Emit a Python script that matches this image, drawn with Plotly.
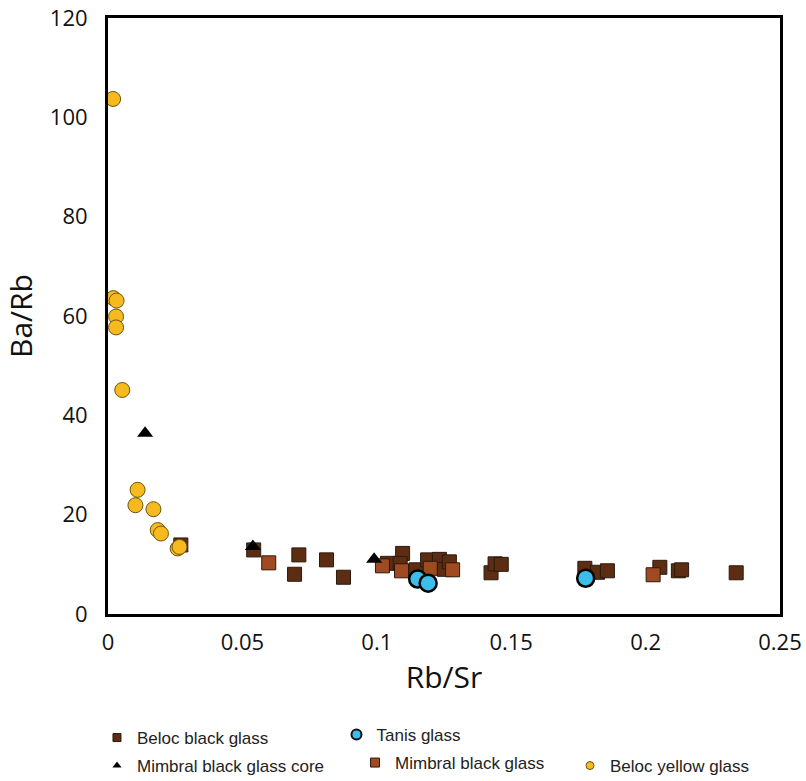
import plotly.graph_objects as go

# ---- data ----
beloc_black_x = [0.0271, 0.0542, 0.0710, 0.0694, 0.0813, 0.0876, 0.1040, 0.1096, 0.1087,
                 0.1146, 0.1189, 0.1233, 0.1251, 0.1270, 0.1425, 0.1440, 0.1463, 0.1774,
                 0.1821, 0.1858, 0.2053, 0.2122, 0.2134, 0.2337]
beloc_black_y = [13.9, 12.9, 11.9, 8.0, 10.9, 7.4, 10.2, 12.2, 10.2,
                 8.9, 10.9, 11.0, 9.0, 10.5, 8.3, 10.1, 10.0, 9.2,
                 8.4, 8.7, 9.4, 8.7, 8.9, 8.3]

mimbral_black_x = [0.0598, 0.1021, 0.1092, 0.1199, 0.1282, 0.2028]
mimbral_black_y = [10.3, 9.7, 8.7, 9.2, 8.9, 7.9]

tanis_x = [0.1152, 0.1191, 0.1777]
tanis_y = [7.05, 6.2, 7.2]

beloc_yellow_x = [0.0019, 0.0020, 0.0032, 0.0030, 0.0030, 0.0053, 0.0110, 0.0102,
                  0.0169, 0.0185, 0.0197, 0.0259, 0.0266]
beloc_yellow_y = [103.7, 63.6, 63.1, 59.9, 57.7, 45.1, 25.0, 21.9,
                  21.1, 16.9, 16.2, 13.2, 13.5]

mimbral_core_x = [0.0138, 0.0539, 0.0990]
mimbral_core_y = [36.4, 13.6, 11.0]

x_ticks = [0, 0.05, 0.1, 0.15, 0.2, 0.25]
x_tick_labels = ["0", "0.05", "0.1", "0.15", "0.2", "0.25"]
y_ticks = [0, 20, 40, 60, 80, 100, 120]
y_tick_labels = ["0", "20", "40", "60", "80", "100", "120"]

# ---- styles ----
DARK = "#5C2D12"
LIGHT = "#A04A22"
EDGE = "#2A1A0E"
BLUE = "#3DBDEB"
YELLOW = "#F6BA1E"
YEDGE = "#6E5312"

fig = go.Figure()

fig.add_trace(go.Scatter(x=beloc_black_x, y=beloc_black_y, mode="markers", showlegend=False,
                         name="Beloc black glass",
                         marker=dict(symbol="square", size=14, color=DARK,
                                     line=dict(color=EDGE, width=1))))
fig.add_trace(go.Scatter(x=mimbral_black_x, y=mimbral_black_y, mode="markers", showlegend=False,
                         name="Mimbral black glass",
                         marker=dict(symbol="square", size=14, color=LIGHT,
                                     line=dict(color=EDGE, width=1))))
fig.add_trace(go.Scatter(x=tanis_x, y=tanis_y, mode="markers", showlegend=False,
                         name="Tanis glass",
                         marker=dict(symbol="circle", size=17, color=BLUE,
                                     line=dict(color="black", width=2.5))))
fig.add_trace(go.Scatter(x=beloc_yellow_x, y=beloc_yellow_y, mode="markers", showlegend=False,
                         name="Beloc yellow glass",
                         marker=dict(symbol="circle", size=15, color=YELLOW,
                                     line=dict(color=YEDGE, width=1))))
fig.add_trace(go.Scatter(x=mimbral_core_x, y=mimbral_core_y, mode="markers", showlegend=False,
                         name="Mimbral black glass core",
                         marker=dict(symbol="triangle-up", size=14, color="black",
                                     line=dict(width=0))))

# ---- legend entries (small symbols, each in its own legend box) ----
leg_font = dict(family="Liberation Sans, Arial, sans-serif", size=17, color="#222222")
legend_specs = [
    ("legend", "Beloc black glass", dict(symbol="square", size=8, color=DARK, line=dict(color=EDGE, width=1))),
    ("legend2", "Tanis glass", dict(symbol="circle", size=10, color=BLUE, line=dict(color="#111111", width=2))),
    ("legend3", "Mimbral black glass core", dict(symbol="triangle-up", size=8, color="black", line=dict(width=0))),
    ("legend4", "Mimbral black glass", dict(symbol="square", size=9, color=LIGHT, line=dict(color=EDGE, width=1))),
    ("legend5", "Beloc yellow glass", dict(symbol="circle", size=8, color=YELLOW, line=dict(color=YEDGE, width=1))),
]
for lg, nm, mk in legend_specs:
    fig.add_trace(go.Scatter(x=[None], y=[None], mode="markers", name=nm, marker=mk,
                             legend=lg, showlegend=True, hoverinfo="skip"))

def leg(x, y):
    return dict(x=x, y=y, xref="paper", yref="paper", xanchor="left", yanchor="middle",
                bgcolor="rgba(0,0,0,0)", borderwidth=0, font=leg_font, orientation="v")

axis_font = dict(family="Open Sans, sans-serif", size=22, color="#111111")
title_font = dict(family="Open Sans, sans-serif", size=30, color="#111111")

fig.update_layout(
    width=806, height=781,
    margin=dict(l=108, r=26, t=18, b=167, autoexpand=False),
    paper_bgcolor="white", plot_bgcolor="white",
    legend=leg(-0.0164, -0.2081),
    legend2=leg(0.340, -0.2030),
    legend3=leg(-0.0164, -0.2550),
    legend4=leg(0.3676, -0.2500),
    legend5=leg(0.6875, -0.2550),
    xaxis=dict(range=[0, 0.25], tickvals=x_ticks, ticktext=x_tick_labels,
               showgrid=False, zeroline=False, showline=True, linecolor="black",
               linewidth=3, mirror=True, ticks="", ticklabelstandoff=7,
               tickfont=axis_font, automargin=False,
               title=dict(text="Rb/Sr", font=title_font, standoff=12)),
    yaxis=dict(range=[0, 120], tickvals=y_ticks, ticktext=y_tick_labels,
               showgrid=False, zeroline=False, showline=True, linecolor="black",
               linewidth=3, mirror=True, ticks="", ticklabelstandoff=13,
               tickfont=axis_font, automargin=False,
               title=dict(text="Ba/Rb", font=title_font, standoff=18)),
)

fig.write_html("out.html",
               config={"displayModeBar": False},
               post_script="document.body.style.margin='0px';document.body.style.overflow='hidden';")
